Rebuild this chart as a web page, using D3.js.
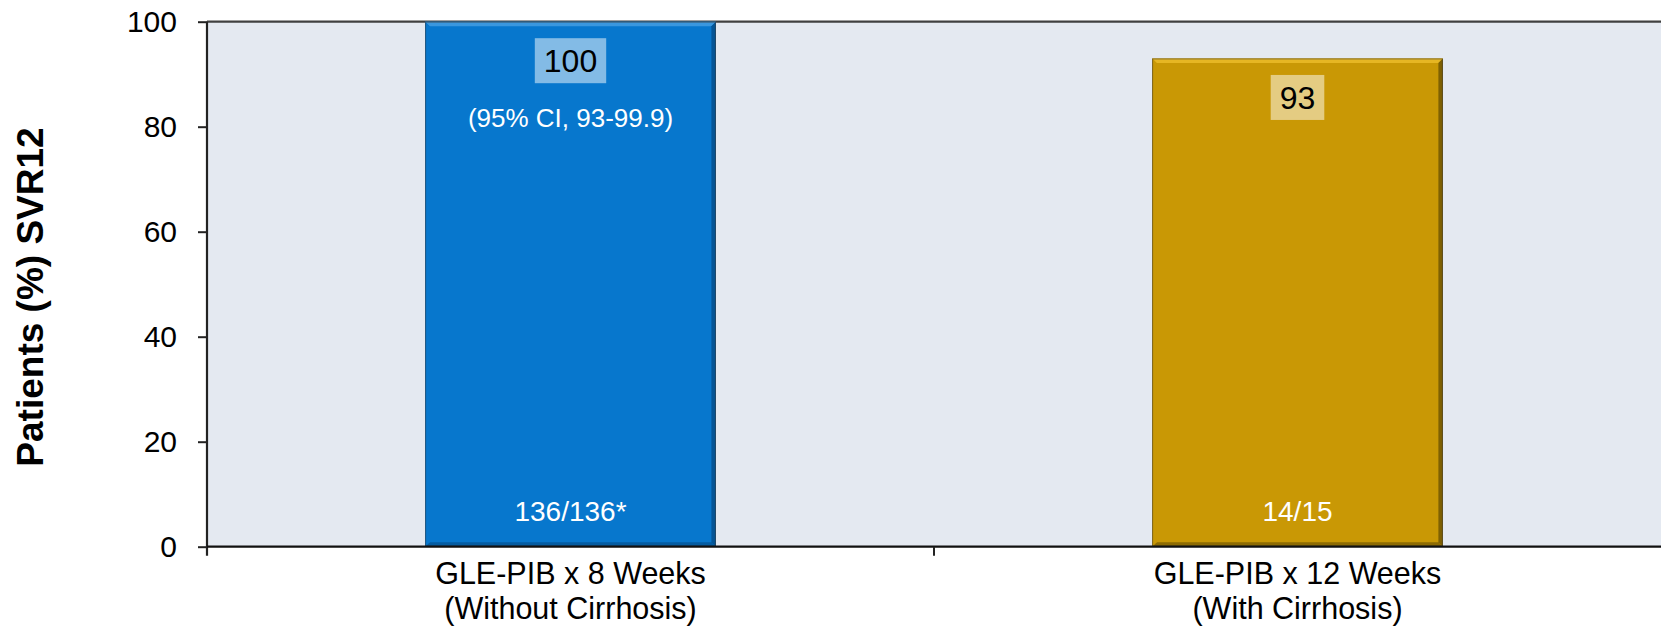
<!DOCTYPE html>
<html>
<head>
<meta charset="utf-8">
<script src="https://cdn.jsdelivr.net/npm/d3@7"></script>
<style>
  html, body { margin: 0; padding: 0; background: #ffffff; }
  svg { display: block; font-family: "Liberation Sans", Arial, sans-serif; }
</style>
</head>
<body>
<svg id="chart" width="1661" height="629"></svg>
<script>
// SVR12 rates by treatment arm
const categories = ["GLE-PIB x 8 Weeks\n(Without Cirrhosis)", "GLE-PIB x 12 Weeks\n(With Cirrhosis)"];
const svrPercent = [100, 93];
const patientCounts = ["136/136*", "14/15"];
const ciNotes = ["(95% CI, 93-99.9)", ""];
const yTicks = [0, 20, 40, 60, 80, 100];
const yTitle = "Patients (%) SVR12";

const barColors = ["#0777CD", "#C99805"];
const bevelLight = ["#3A97DE", "#E6B623"];
const bevelDark = ["#055596", "#7E6002"];

const svg = d3.select("#chart");
const W = 1661, H = 629;
const margin = { top: 21.7, right: 0, bottom: 82.3, left: 207 };
const innerW = W - margin.left - margin.right;
const innerH = H - margin.top - margin.bottom;

const g = svg.append("g").attr("transform", `translate(${margin.left},${margin.top})`);

const x = d3.scaleBand()
  .domain(categories)
  .range([0, innerW])
  .paddingInner(0.6)
  .paddingOuter(0.3);

const y = d3.scaleLinear().domain([0, 100]).range([innerH, 0]);

// plot area background
g.append("rect")
  .attr("x", 0).attr("y", 0)
  .attr("width", innerW).attr("height", innerH)
  .attr("fill", "#E4E9F1");

// top border of plot area
g.append("line")
  .attr("x1", 0).attr("x2", innerW)
  .attr("y1", y(100)).attr("y2", y(100))
  .attr("stroke", "#404040").attr("stroke-width", 2.2);

// bars with bevelled edges
const b = 4.5;
const bars = g.selectAll(".bar").data(svrPercent).enter().append("g").attr("class", "bar");
bars.each(function (d, i) {
  const sel = d3.select(this);
  const x0 = x(categories[i]), x1 = x0 + x.bandwidth();
  const y0 = y(d), y1 = y(0);
  sel.append("rect")
    .attr("x", x0).attr("y", y0)
    .attr("width", x1 - x0).attr("height", y1 - y0)
    .attr("fill", barColors[i]);
  const poly = (pts, fill, op) => sel.append("polygon")
    .attr("points", pts.map(p => p.join(",")).join(" "))
    .attr("fill", fill).attr("opacity", op);
  poly([[x0, y0], [x1, y0], [x1 - b, y0 + b], [x0 + b, y0 + b]], bevelLight[i], 1);
  poly([[x1, y0], [x1, y1], [x1 - b, y1 - b], [x1 - b, y0 + b]], bevelDark[i], 1);
  poly([[x0, y1], [x1, y1], [x1 - b, y1 - b], [x0 + b, y1 - b]], bevelDark[i], 0.8);
  poly([[x0, y0], [x0, y1], [x0 + b, y1 - b], [x0 + b, y0 + b]], barColors[i], 1);
  sel.append("rect")
    .attr("x", x0 + 0.5).attr("y", y0 + 0.5)
    .attr("width", x1 - x0 - 1).attr("height", y1 - y0 - 1)
    .attr("fill", "none").attr("stroke", "#3a3a3a").attr("stroke-opacity", 0.55).attr("stroke-width", 1);

  const cx = x0 + x.bandwidth() / 2;

  // value label on a translucent box
  const boxG = sel.append("g");
  const t = boxG.append("text")
    .attr("x", cx).attr("y", y0 + 50.5)
    .attr("text-anchor", "middle")
    .attr("font-size", 32).attr("fill", "#000")
    .text(d);
  const bb = t.node().getBBox();
  boxG.insert("rect", "text")
    .attr("x", bb.x - 9).attr("y", y0 + 16.5)
    .attr("width", bb.width + 18).attr("height", 45)
    .attr("fill", "#ffffff").attr("fill-opacity", 0.5);

  if (ciNotes[i]) {
    sel.append("text")
      .attr("x", cx).attr("y", y0 + 105)
      .attr("text-anchor", "middle")
      .attr("font-size", 26).attr("fill", "#ffffff")
      .text(ciNotes[i]);
  }

  sel.append("text")
    .attr("x", cx).attr("y", y1 - 26)
    .attr("text-anchor", "middle")
    .attr("font-size", 28).attr("fill", "#ffffff")
    .text(patientCounts[i]);
});

// y axis
const yAxis = g.append("g")
  .call(d3.axisLeft(y).tickValues(yTicks).tickSize(9).tickPadding(21));
yAxis.select(".domain").remove();
yAxis.selectAll(".tick line").attr("stroke", "#222").attr("stroke-width", 2);
yAxis.selectAll(".tick text").attr("font-size", 30).attr("fill", "#000")
  .attr("font-family", "Liberation Sans, Arial, sans-serif");
g.append("line")
  .attr("x1", 0).attr("x2", 0)
  .attr("y1", 0).attr("y2", innerH + 9)
  .attr("stroke", "#222").attr("stroke-width", 2.2);

// x axis baseline and boundary ticks
g.append("line")
  .attr("x1", 0).attr("x2", innerW)
  .attr("y1", innerH).attr("y2", innerH)
  .attr("stroke", "#111").attr("stroke-width", 2.2);
const boundaries = categories.slice(1).map(c => x(c) - x.step() * x.paddingInner() / 2);
g.selectAll(".xtick").data(boundaries).enter().append("line")
  .attr("x1", d => d).attr("x2", d => d)
  .attr("y1", innerH).attr("y2", innerH + 9)
  .attr("stroke", "#222").attr("stroke-width", 2);

// category labels (two lines each)
const xl = g.append("g");
categories.forEach(c => {
  const lines = c.split("\n");
  const txt = xl.append("text")
    .attr("x", x(c) + x.bandwidth() / 2)
    .attr("y", innerH + 37.5)
    .attr("text-anchor", "middle")
    .attr("font-size", 30.5).attr("fill", "#000");
  lines.forEach((ln, k) => {
    txt.append("tspan")
      .attr("x", x(c) + x.bandwidth() / 2)
      .attr("dy", k === 0 ? 0 : 34.5)
      .text(ln);
  });
});

// y axis title
svg.append("text")
  .attr("transform", `translate(43,297) rotate(-90)`)
  .attr("text-anchor", "middle")
  .attr("font-size", 37).attr("font-weight", "bold").attr("fill", "#000")
  .text(yTitle);
</script>
</body>
</html>
